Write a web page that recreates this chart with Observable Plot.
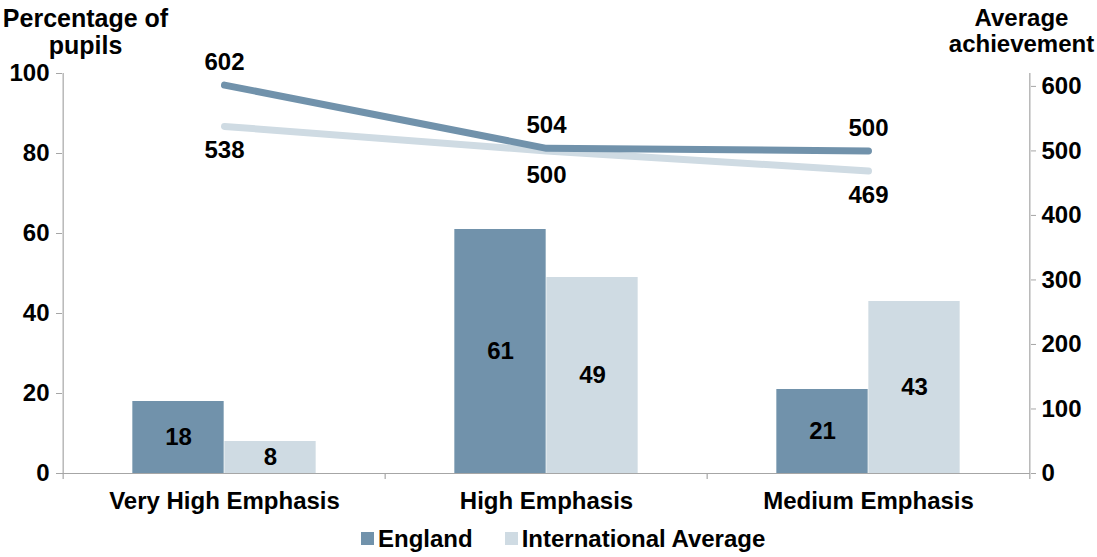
<!DOCTYPE html>
<html>
<head>
<meta charset="utf-8">
<script src="https://cdn.jsdelivr.net/npm/d3@7"></script>
<script src="https://cdn.jsdelivr.net/npm/@observablehq/plot@0.6"></script>
<style>
  html, body { margin: 0; padding: 0; background: #fff; }
  #chart { width: 1097px; }
  .legend { height: 37px; display: flex; justify-content: flex-start; align-items: center;
    padding-left: 361px; box-sizing: border-box;
    font-family: "Liberation Sans", Arial, sans-serif; font-weight: bold; font-size: 24px; color: #000; }
  .legend .item { display: flex; align-items: center; margin-right: 32px; }
  .legend span.sw { display: inline-block; width: 13px; height: 13px; margin-right: 4px; }
</style>
</head>
<body>
<div id="chart"></div>
<script>
const categories = ["Very High Emphasis", "High Emphasis", "Medium Emphasis"];
const seriesNames = ["England", "International Average"];
const englandPct = [18, 61, 21];
const intlPct = [8, 49, 43];
const englandAch = [602, 504, 500];
const intlAch = [538, 500, 469];
const leftTicks = [0, 20, 40, 60, 80, 100];
const rightTicks = [0, 100, 200, 300, 400, 500, 600];
const colors = ["#7192ab", "#cfdbe3"];
const leftTitle = "Percentage of\npupils";
const rightTitle = "Average\nachievement";

const W = 1097, H = 520;
const mL = 62, mR = 67, mT = 73, mB = 47;
const bw = (W - mL - mR) / categories.length;
const barW = 92;
const k = 100 / 620; // right-axis value -> left-axis units
const gray = "#a6a6a6";
const FS = 24;

const rows = categories.map((c, i) => ({
  cat: c, eng: englandPct[i], intl: intlPct[i], engA: englandAch[i] * k, intlA: intlAch[i] * k,
  engAL: englandAch[i], intlAL: intlAch[i]
}));

const chart = Plot.plot({
  width: W, height: H,
  marginLeft: mL, marginRight: mR, marginTop: mT, marginBottom: mB,
  style: { fontFamily: "'Liberation Sans', Arial, sans-serif", fontWeight: "bold", fontSize: FS + "px", color: "#000", background: "#fff" },
  x: { type: "band", domain: categories, padding: 0, axis: null },
  y: { domain: [0, 100], axis: null },
  marks: [
    // bars
    Plot.barY(rows, { x: "cat", y: "eng", fill: colors[0], insetLeft: bw / 2 - barW, insetRight: bw / 2 }),
    Plot.barY(rows, { x: "cat", y: "intl", fill: colors[1], insetLeft: bw / 2, insetRight: bw / 2 - barW }),
    // baseline and axis lines
    Plot.ruleY([0], { stroke: gray, strokeWidth: 1.2 }),
    Plot.ruleX([categories[0]], { x: d => d, dx: -bw / 2, y1: 100, y2: 0, insetBottom: -6, stroke: gray, strokeWidth: 1.2 }),
    Plot.ruleX([categories[categories.length - 1]], { x: d => d, dx: bw / 2, y1: 100, y2: 0, insetBottom: -6, stroke: gray, strokeWidth: 1.2 }),
    Plot.ruleX(categories.slice(1), { x: d => d, dx: -bw / 2, y1: 0, y2: 0, insetBottom: -6, stroke: gray, strokeWidth: 1.2 }),
    // axes
    Plot.axisY({ ticks: leftTicks, tickSize: 6, tickPadding: 7, stroke: gray, fontSize: FS, label: null }),
    Plot.axisY({ anchor: "right", ticks: rightTicks.map(v => v * k), tickFormat: v => String(Math.round(v / k)),
      tickSize: 5, tickPadding: 6, stroke: gray, fontSize: FS, label: null }),
    Plot.axisX({ tickSize: 0, tickPadding: 18, fontSize: FS, label: null }),
    // lines
    Plot.line(rows, { x: "cat", y: "intlA", stroke: colors[1], strokeWidth: 7, curve: "linear", strokeLinecap: "round", strokeLinejoin: "round" }),
    Plot.line(rows, { x: "cat", y: "engA", stroke: colors[0], strokeWidth: 7, curve: "linear", strokeLinecap: "round", strokeLinejoin: "round" }),
    // line labels
    Plot.text(rows, { x: "cat", y: "engA", text: "engAL", dy: -23, fontSize: FS }),
    Plot.text(rows, { x: "cat", y: "intlA", text: "intlAL", dy: 24, fontSize: FS }),
    // bar labels
    Plot.text(rows, { x: "cat", y: d => d.eng / 2, text: "eng", dx: -barW / 2, fontSize: FS }),
    Plot.text(rows, { x: "cat", y: d => d.intl / 2, text: "intl", dx: barW / 2, fontSize: FS }),
    // axis titles
    Plot.text([leftTitle], { frameAnchor: "top-left", dx: 23, dy: -66, lineAnchor: "top", textAnchor: "middle", lineHeight: 1.08, fontSize: 25 }),
    Plot.text([rightTitle], { frameAnchor: "top-right", dx: -9, dy: -66, lineAnchor: "top", textAnchor: "middle", lineHeight: 1.08, fontSize: 24 })
  ]
});

document.getElementById("chart").appendChild(chart);

const legend = document.createElement("div");
legend.className = "legend";
legend.innerHTML = seriesNames.map((s, i) =>
  `<div class="item"><span class="sw" style="background:${colors[i]}"></span>${s}</div>`).join("");
document.getElementById("chart").appendChild(legend);
</script>
</body>
</html>
